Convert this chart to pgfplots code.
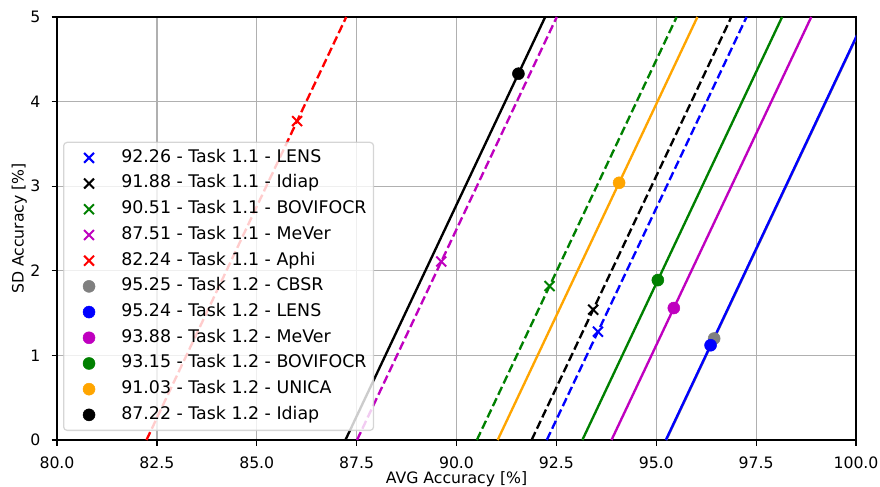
\documentclass[border=0pt]{standalone}
\usepackage{pgfplots}
\pgfplotsset{compat=1.18}
\usepackage{fontspec}
\setmainfont{DejaVu Sans}

\definecolor{mplgreen}{rgb}{0,0.5,0}
\definecolor{mplmagenta}{rgb}{0.75,0,0.75}
\definecolor{mplorange}{rgb}{1,0.647,0}
\definecolor{mplgray}{rgb}{0.5,0.5,0.5}
\definecolor{gridgray}{HTML}{B0B0B0}
\definecolor{framegray}{rgb}{0.8,0.8,0.8}

\newcommand{\tfont}{\fontsize{15.7bp}{18bp}\selectfont}
\newcommand{\lfont}{\fontsize{17.4bp}{20bp}\selectfont}

% markers: x = Task 1.1, dot = Task 1.2; lines: AVG - SD = score
\pgfplotsset{
  t11/.style={only marks, mark=x, mark size=7bp, line width=2bp, color=#1},
  t12/.style={only marks, mark=*, mark size=6bp, color=#1,
    mark options={draw=#1, fill=#1, line width=0.5bp}},
  l11/.style={color=#1, line width=2.35bp, dash pattern=on 8.7bp off 3.8bp, forget plot},
  l12/.style={color=#1, line width=2.35bp, forget plot},
}

\begin{document}
\begin{tikzpicture}
\path[use as bounding box] (-57bp,-47bp) rectangle (823bp,440bp);
\begin{axis}[
  at={(0,0)}, anchor=south west,
  scale only axis, width=799bp, height=423bp,
  xmin=80, xmax=100, ymin=0, ymax=5,
  xtick={80,82.5,85,87.5,90,92.5,95,97.5,100},
  ytick={0,1,2,3,4,5},
  grid=major,
  major grid style={gridgray, line width=1.26bp},
  axis line style={black, line width=1.26bp},
  tick pos=left, tick align=outside,
  major tick length=5.5bp,
  major tick style={black, line width=1.26bp},
  /pgf/number format/assume math mode=true,
  tick label style={font=\tfont},
  xticklabel style={/pgf/number format/.cd, fixed, fixed zerofill, precision=1,
    /tikz/.cd, anchor=base, inner sep=0pt, yshift=-23bp},
  yticklabel style={anchor=east, inner sep=0pt, xshift=-11bp},
  label style={font=\tfont},
  xlabel={AVG Accuracy [\%]},
  ylabel={SD Accuracy [\%]},
  xlabel style={at={(axis description cs:0.5,-0.1017)}, anchor=base, inner sep=0pt},
  ylabel style={at={(axis description cs:-0.0419,0.5)}, anchor=base, inner sep=0pt},
  legend cell align=left,
  legend style={
    at={(axis description cs:0,0)}, anchor=south west, xshift=6bp, yshift=9bp,
    draw=framegray, line width=1.26bp, rounded corners=3.5bp,
    fill=white, fill opacity=0.8, draw opacity=0.8, text opacity=1,
    inner sep=7bp, row sep=8.7bp, column sep=13.9bp,
    font=\lfont,
    nodes={inner sep=0pt, text height=12.9bp, text depth=4.1bp},
  },
  legend image post style={opacity=1},
  legend image code/.code={
    \draw[#1] plot coordinates {(17.4bp,0bp)};
    \path (0bp,0bp) (34.8bp,0bp);
  },
]
% Task 1.1 results
\addplot[t11=blue] coordinates {(93.54,1.28)};
\addlegendentry{92.26 - Task 1.1 - LENS}
\addplot[t11=black] coordinates {(93.42,1.54)};
\addlegendentry{91.88 - Task 1.1 - Idiap}
\addplot[t11=mplgreen] coordinates {(92.33,1.82)};
\addlegendentry{90.51 - Task 1.1 - BOVIFOCR}
\addplot[t11=mplmagenta] coordinates {(89.62,2.11)};
\addlegendentry{87.51 - Task 1.1 - MeVer}
\addplot[t11=red] coordinates {(86.01,3.77)};
\addlegendentry{82.24 - Task 1.1 - Aphi}
% Task 1.2 results
\addplot[t12=mplgray] coordinates {(96.45,1.20)};
\addlegendentry{95.25 - Task 1.2 - CBSR}
\addplot[t12=blue] coordinates {(96.36,1.12)};
\addlegendentry{95.24 - Task 1.2 - LENS}
\addplot[t12=mplmagenta] coordinates {(95.44,1.56)};
\addlegendentry{93.88 - Task 1.2 - MeVer}
\addplot[t12=mplgreen] coordinates {(95.04,1.89)};
\addlegendentry{93.15 - Task 1.2 - BOVIFOCR}
\addplot[t12=mplorange] coordinates {(94.07,3.04)};
\addlegendentry{91.03 - Task 1.2 - UNICA}
\addplot[t12=black] coordinates {(91.55,4.33)};
\addlegendentry{87.22 - Task 1.2 - Idiap}

% iso-score lines
\addplot[l11=blue] coordinates {(92.26,0) (97.26,5)};
\addplot[l11=black] coordinates {(91.88,0) (96.88,5)};
\addplot[l11=mplgreen] coordinates {(90.51,0) (95.51,5)};
\addplot[l11=mplmagenta] coordinates {(87.51,0) (92.51,5)};
\addplot[l11=red] coordinates {(82.24,0) (87.24,5)};
\addplot[l12=mplgray] coordinates {(95.25,0) (100.25,5)};
\addplot[l12=blue] coordinates {(95.24,0) (100.24,5)};
\addplot[l12=mplmagenta] coordinates {(93.88,0) (98.88,5)};
\addplot[l12=mplgreen] coordinates {(93.15,0) (98.15,5)};
\addplot[l12=mplorange] coordinates {(91.03,0) (96.03,5)};
\addplot[l12=black] coordinates {(87.22,0) (92.22,5)};
\end{axis}
\end{tikzpicture}
\end{document}
